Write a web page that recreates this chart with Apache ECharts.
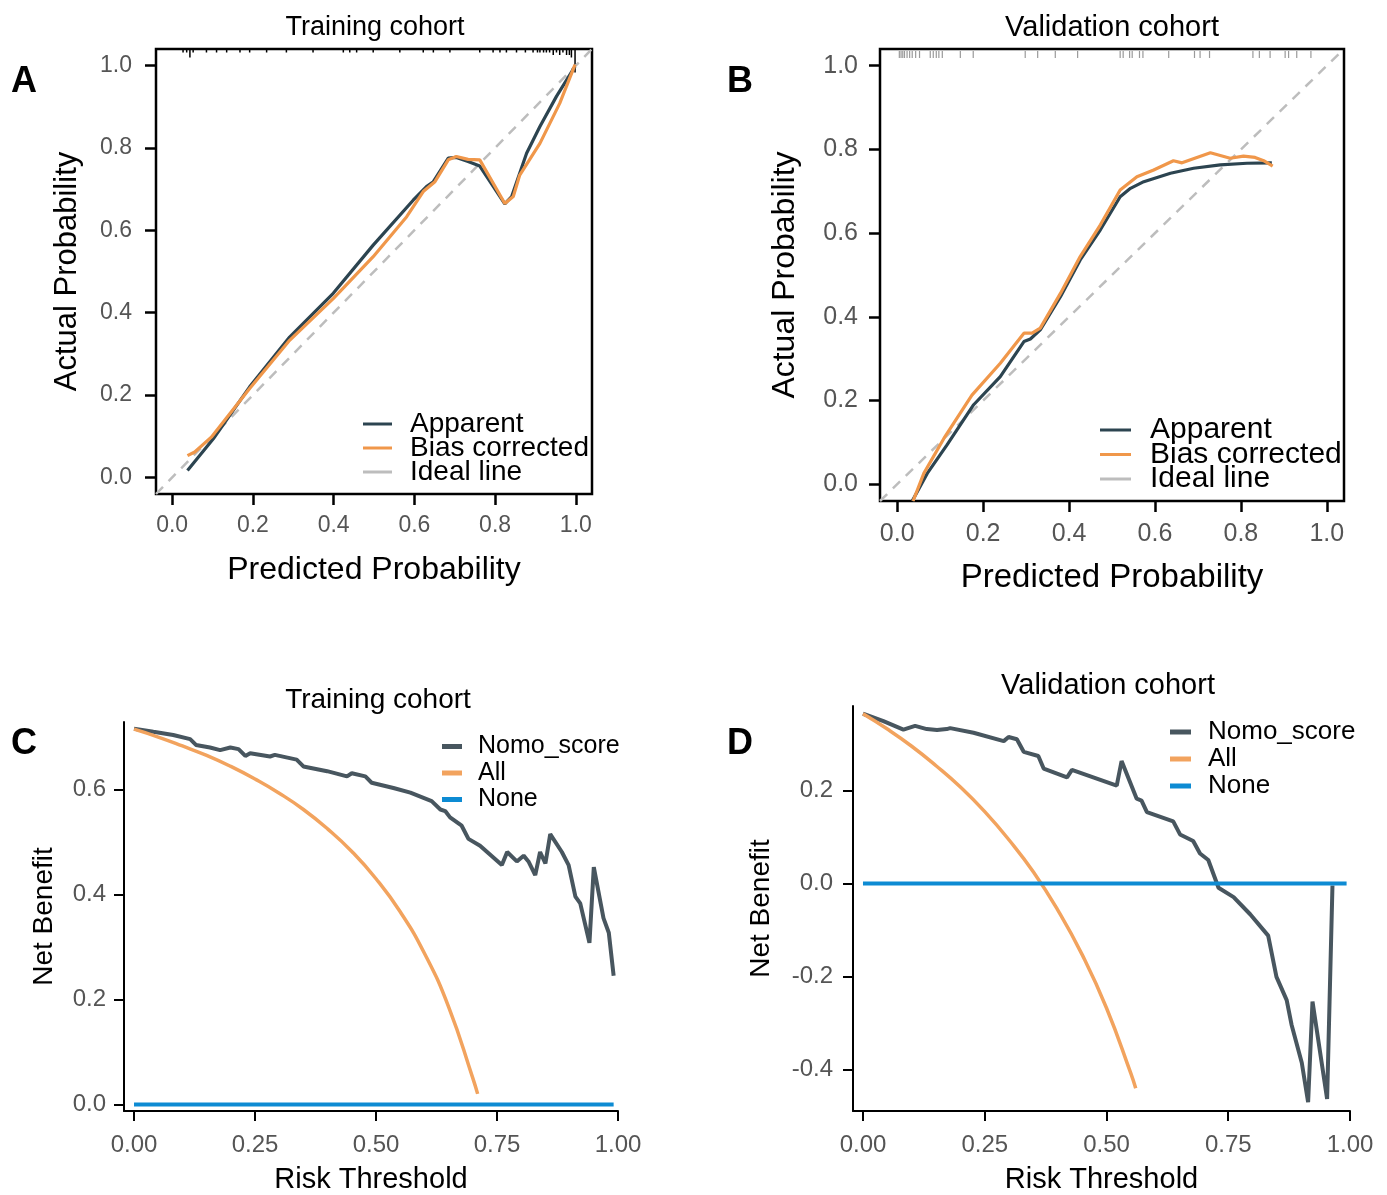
<!DOCTYPE html>
<html>
<head>
<meta charset="utf-8">
<script src="https://cdn.jsdelivr.net/npm/echarts@6/dist/echarts.min.js"></script>
<style>
html,body{margin:0;padding:0;background:#fff;}
#chart{width:1387px;height:1195px;}
</style>
</head>
<body>
<div id="chart"></div>
<script>
// ---------- DATA ----------
const calTicks = [0, 0.2, 0.4, 0.6, 0.8, 1.0];
const dcaXTicks = [0, 0.25, 0.5, 0.75, 1.0];
const dcaTrainYTicks = [0, 0.2, 0.4, 0.6];
const dcaValidYTicks = [-0.4, -0.2, 0, 0.2];

const idealLine = [[-0.04, -0.04], [1.04, 1.04]];

// Panel A: training calibration
const trainApparent = [[0.038,0.017],[0.102,0.094],[0.192,0.220],[0.291,0.341],[0.399,0.447],[0.498,0.564],[0.597,0.673],[0.630,0.706],[0.647,0.718],[0.684,0.775],[0.704,0.777],[0.733,0.767],[0.762,0.756],[0.824,0.664],[0.841,0.682],[0.878,0.787],[0.911,0.852],[0.952,0.925],[0.998,0.998]];
const trainBias = [[0.038,0.053],[0.056,0.062],[0.097,0.098],[0.192,0.216],[0.291,0.333],[0.399,0.434],[0.498,0.536],[0.581,0.633],[0.622,0.694],[0.651,0.718],[0.684,0.771],[0.704,0.779],[0.733,0.772],[0.762,0.771],[0.824,0.665],[0.845,0.682],[0.861,0.734],[0.911,0.811],[0.960,0.908],[0.998,1.002]];
// rug of predicted probabilities (position, relative frequency)
const trainRug = [[0.027,1],[0.036,1],[0.044,3],[0.052,1],[0.085,1],[0.11,1],[0.135,1],[0.168,1],[0.192,1],[0.234,1],[0.283,1],[0.349,1],[0.424,1],[0.440,1],[0.457,1],[0.498,1],[0.564,1],[0.622,1],[0.647,1],[0.688,1],[0.762,1],[0.795,1],[0.812,1],[0.828,1],[0.853,1],[0.875,1],[0.894,1],[0.905,1],[0.911,1],[0.920,1],[0.927,1],[0.935,1],[0.944,2],[0.952,1],[0.960,2],[0.968,1],[0.977,2],[0.984,2],[0.989,3],[0.998,9]];

// Panel B: validation calibration
const validApparent = [[0.035,-0.04],[0.070,0.026],[0.116,0.094],[0.178,0.190],[0.240,0.257],[0.295,0.341],[0.310,0.347],[0.333,0.369],[0.380,0.448],[0.426,0.536],[0.473,0.608],[0.519,0.687],[0.543,0.707],[0.574,0.723],[0.636,0.743],[0.690,0.755],[0.752,0.763],[0.814,0.767],[0.872,0.768]];
const validBias = [[0.037,-0.04],[0.062,0.026],[0.109,0.110],[0.174,0.213],[0.240,0.289],[0.295,0.361],[0.314,0.361],[0.333,0.373],[0.380,0.456],[0.426,0.544],[0.473,0.620],[0.519,0.703],[0.558,0.735],[0.597,0.751],[0.643,0.773],[0.663,0.768],[0.729,0.792],[0.775,0.779],[0.806,0.784],[0.833,0.781],[0.853,0.773],[0.874,0.760]];
const validRug = [[0.005,1],[0.009,1],[0.013,1],[0.017,1],[0.023,1],[0.029,1],[0.035,1],[0.043,1],[0.052,1],[0.077,1],[0.084,1],[0.091,1],[0.097,1],[0.105,1],[0.147,1],[0.177,1],[0.298,1],[0.327,1],[0.368,1],[0.420,1],[0.519,1],[0.526,1],[0.541,1],[0.547,1],[0.564,1],[0.572,1],[0.632,1],[0.692,1],[0.705,1],[0.727,1],[0.828,1],[0.843,1],[0.868,1],[0.903,1],[0.911,1],[0.930,1],[0.963,1]];

// Panel C: training DCA
const trainNomo = [[0,0.716],[0.04,0.710],[0.081,0.704],[0.116,0.696],[0.128,0.685],[0.157,0.680],[0.178,0.675],[0.199,0.680],[0.216,0.677],[0.230,0.664],[0.240,0.669],[0.281,0.663],[0.291,0.666],[0.336,0.657],[0.350,0.644],[0.399,0.635],[0.440,0.625],[0.450,0.631],[0.478,0.625],[0.491,0.613],[0.536,0.603],[0.571,0.594],[0.615,0.578],[0.633,0.562],[0.643,0.559],[0.653,0.547],[0.677,0.531],[0.691,0.506],[0.715,0.493],[0.760,0.456],[0.771,0.481],[0.791,0.463],[0.805,0.474],[0.815,0.463],[0.829,0.437],[0.839,0.481],[0.850,0.459],[0.860,0.515],[0.884,0.481],[0.898,0.456],[0.912,0.396],[0.922,0.383],[0.941,0.308],[0.950,0.452],[0.970,0.355],[0.981,0.327],[0.991,0.245]];
const trainAll = [[0,0.715],[0.05,0.700],[0.10,0.683],[0.15,0.665],[0.20,0.644],[0.25,0.620],[0.30,0.593],[0.35,0.562],[0.40,0.525],[0.45,0.482],[0.50,0.430],[0.55,0.367],[0.60,0.288],[0.65,0.186],[0.70,0.050],[0.71,0.020]];
const trainNone = [[0,0],[0.991,0]];

// Panel D: validation DCA
const validNomo = [[0,0.366],[0.042,0.350],[0.083,0.332],[0.107,0.340],[0.131,0.333],[0.152,0.331],[0.172,0.333],[0.179,0.335],[0.227,0.325],[0.289,0.307],[0.299,0.316],[0.316,0.311],[0.330,0.284],[0.360,0.275],[0.371,0.248],[0.419,0.229],[0.429,0.245],[0.521,0.211],[0.531,0.264],[0.562,0.183],[0.572,0.179],[0.583,0.154],[0.637,0.134],[0.651,0.106],[0.678,0.092],[0.692,0.065],[0.709,0.051],[0.730,-0.009],[0.761,-0.029],[0.795,-0.066],[0.832,-0.112],[0.849,-0.201],[0.870,-0.251],[0.880,-0.304],[0.901,-0.386],[0.914,-0.471],[0.923,-0.254],[0.953,-0.464],[0.964,-0.004]];
const validAll = [[0,0.366],[0.05,0.333],[0.10,0.296],[0.15,0.254],[0.20,0.208],[0.25,0.155],[0.30,0.094],[0.35,0.025],[0.40,-0.057],[0.45,-0.153],[0.50,-0.268],[0.55,-0.409],[0.56,-0.441]];
const validNone = [[0,0],[0.993,0]];

// ---------- STYLE ----------
const FONT = '"Liberation Sans", Arial, Helvetica, sans-serif';
const C_APP = '#2c4450';
const C_BIAS = '#f0974a';
const C_IDEAL = '#bdbdbd';
const C_NOMO = '#48565f';
const C_ALL = '#f2a35e';
const C_NONE = '#0d8bd3';
const LBL = '#555555';

function calAxis(type, gridIndex, name, fs, labelFs, gap, margin) {
  return {
    type: 'value', gridIndex, min: -0.04, max: 1.04,
    name, nameLocation: 'middle', nameGap: gap,
    nameTextStyle: {fontSize: fs, color: '#000', fontFamily: FONT},
    axisLine: {show: false, onZero: false},
    axisTick: {show: true, inside: false, length: 11, customValues: calTicks, lineStyle: {color: '#000', width: 2.5}},
    axisLabel: {show: true, customValues: calTicks, margin, fontSize: labelFs, color: LBL, fontFamily: FONT,
      formatter: v => v.toFixed(1)},
    splitLine: {show: false}
  };
}
function dcaAxis(gridIndex, min, max, ticks, digits, name, fs, labelFs, gap, margin) {
  return {
    type: 'value', gridIndex, min, max,
    name, nameLocation: 'middle', nameGap: gap,
    nameTextStyle: {fontSize: fs, color: '#000', fontFamily: FONT},
    axisLine: {show: true, onZero: false, lineStyle: {color: '#000', width: 2}},
    axisTick: {show: true, inside: false, length: 10, customValues: ticks, lineStyle: {color: '#000', width: 2}},
    axisLabel: {show: true, customValues: ticks, margin, fontSize: labelFs, color: LBL, fontFamily: FONT,
      formatter: v => v.toFixed(digits)},
    splitLine: {show: false}
  };
}
function rugSeries(data, xi, yi, color, unit, offset, width) {
  return {
    type: 'custom', xAxisIndex: xi, yAxisIndex: yi, data, silent: true, clip: false, z: 1,
    renderItem: (params, api) => {
      const p = api.coord([api.value(0), 1.04]);
      const y0 = p[1] + offset;
      return {type: 'line', shape: {x1: p[0], y1: y0, x2: p[0], y2: y0 + api.value(1) * unit},
        style: {stroke: color, lineWidth: width}};
    }
  };
}
function line(name, data, xi, yi, color, width, extra) {
  return Object.assign({
    type: 'line', name, data, xAxisIndex: xi, yAxisIndex: yi, showSymbol: false, symbol: 'none',
    color, lineStyle: {color, width}, itemStyle: {color}, smooth: false, z: 3
  }, extra || {});
}
function legend(names, left, top, fs, gap, iw, ih, tpad) {
  return {
    data: names, orient: 'vertical', left, top, padding: 0, itemGap: gap,
    itemWidth: iw, itemHeight: ih, icon: 'rect', selectedMode: false,
    textStyle: {fontSize: fs, color: '#000', fontFamily: FONT, padding: [0, 0, 0, tpad]}
  };
}
function title(text, left, top, fs, bold) {
  return {text, left, top, textAlign: bold ? 'left' : 'center', padding: 0,
    textStyle: {fontSize: fs, fontWeight: bold ? 'bold' : 'normal', color: '#000', fontFamily: FONT}};
}

const chart = echarts.init(document.getElementById('chart'), null, {renderer: 'canvas'});
chart.setOption({
  backgroundColor: '#fff',
  animation: false,
  textStyle: {fontFamily: FONT},
  title: [
    title('Training cohort', 375, 14, 27),
    title('Validation cohort', 1112, 13, 29),
    title('Training cohort', 378, 686, 28),
    title('Validation cohort', 1108, 671, 29),
    title('A', 11, 64, 36, true),
    title('B', 727, 64, 36, true),
    title('C', 11, 726, 36, true),
    title('D', 727, 726, 36, true)
  ],
  grid: [
    {left: 156, top: 49, width: 436, height: 445, show: true, borderColor: '#000', borderWidth: 2.5, backgroundColor: 'transparent'},
    {left: 880, top: 49, width: 464, height: 452, show: true, borderColor: '#000', borderWidth: 2.5, backgroundColor: 'transparent'},
    {left: 124, top: 722, width: 494, height: 393},
    {left: 853, top: 706, width: 497, height: 409}
  ],
  xAxis: [
    calAxis('x', 0, 'Predicted Probability', 32, 23, 60, 20),
    calAxis('x', 1, 'Predicted Probability', 33, 25, 60, 21),
    dcaAxis(2, -0.0207, 1.0, dcaXTicks, 2, 'Risk Threshold', 29, 24, 54, 22),
    dcaAxis(3, -0.0205, 1.0, dcaXTicks, 2, 'Risk Threshold', 29, 24, 54, 22)
  ],
  yAxis: [
    calAxis('y', 0, 'Actual Probability', 31, 23, 73, 24),
    calAxis('y', 1, 'Actual Probability', 32, 25, 79, 22),
    dcaAxis(2, -0.0126, 0.7287, dcaTrainYTicks, 1, 'Net Benefit', 28, 24, 66, 18),
    dcaAxis(3, -0.4899, 0.3827, dcaValidYTicks, 1, 'Net Benefit', 28, 24, 78, 20)
  ],
  legend: [
    legend(['Apparent', 'Bias corrected', 'Ideal line'], 363, 410, 28, -4, 29, 3, 13),
    legend(['Apparent', 'Bias corrected', 'Ideal line'], 1100, 415, 30, -5.5, 31, 3, 14),
    legend(['Nomo_score', 'All', 'None'], 442, 734, 25, 1.5, 20, 5, 11),
    legend(['Nomo_score', 'All', 'None'], 1170, 719, 26, 1, 21, 5, 12)
  ],
  series: [
    line('Ideal line', idealLine, 0, 0, C_IDEAL, 2.5, {lineStyle: {color: C_IDEAL, width: 2.5, type: [10, 8]}, z: 2}),
    line('Apparent', trainApparent, 0, 0, C_APP, 3.2),
    line('Bias corrected', trainBias, 0, 0, C_BIAS, 3.2),
    rugSeries(trainRug, 0, 0, '#000', 2.5, 1, 1.5),

    line('Ideal line', idealLine, 1, 1, C_IDEAL, 2.5, {lineStyle: {color: C_IDEAL, width: 2.5, type: [10, 8]}, z: 2}),
    line('Apparent', validApparent, 1, 1, C_APP, 3.2),
    line('Bias corrected', validBias, 1, 1, C_BIAS, 3.2),
    rugSeries(validRug, 1, 1, '#9a9a9a', 7, 2, 1.2),

    line('Nomo_score', trainNomo, 2, 2, C_NOMO, 4),
    line('All', trainAll, 2, 2, C_ALL, 3.5, {smooth: true}),
    line('None', trainNone, 2, 2, C_NONE, 4),

    line('Nomo_score', validNomo, 3, 3, C_NOMO, 4),
    line('All', validAll, 3, 3, C_ALL, 3.5, {smooth: true}),
    line('None', validNone, 3, 3, C_NONE, 4)
  ]
});
</script>
</body>
</html>
